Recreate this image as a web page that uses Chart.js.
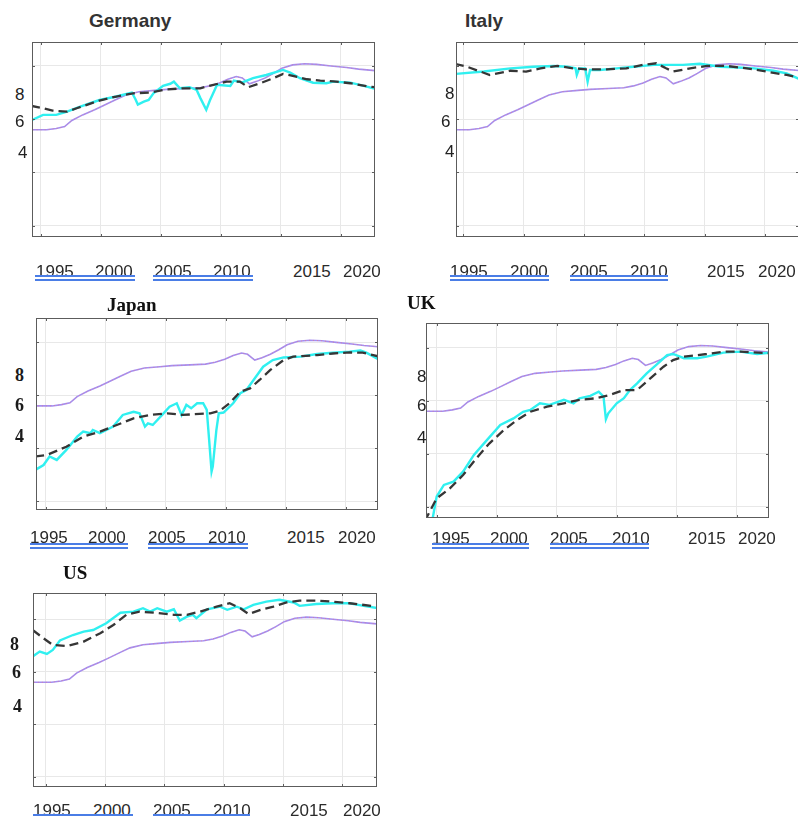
<!DOCTYPE html>
<html>
<head>
<meta charset="utf-8">
<script src="https://cdn.jsdelivr.net/npm/chart.js"></script>
<style>
  html, body { margin: 0; padding: 0; background: #fff; overflow: hidden; }
  #page { position: relative; width: 798px; height: 818px; overflow: hidden; }
  #page canvas { position: absolute; }
  .lbl { position: absolute; white-space: nowrap; line-height: 1; }
  .sans { font-family: "Liberation Sans", Arial, sans-serif; }
  .serif { font-family: "Liberation Serif", "Times New Roman", serif; }
  .uline { position: absolute; height: 6px; box-sizing: border-box;
           border-top: 2px solid #4a7de6; border-bottom: 2px solid #4a7de6; }
</style>
</head>
<body>
<div id="page"></div>
<script>
// tick values and labels
const yearTicks = [1995, 2000, 2005, 2010, 2015, 2020];
const gridValues = [2, 4, 6, 8];
const xTickLabels = ['1995', '2000', '2005', '2010', '2015', '2020'];
const yTickLabels = ['8', '6', '4'];
const countries = ['Germany', 'Italy', 'Japan', 'UK', 'US'];

// purple reference line, the same in every panel
const purpleSeries = [[1994.0, 5.6], [1995.5, 5.6], [1996.3, 5.65], [1997.0, 5.72], [1997.6, 5.95],
  [1998.5, 6.16], [1999.5, 6.35], [2000.2, 6.5], [2001.2, 6.72], [2002.1, 6.91], [2003.2, 7.03],
  [2004.5, 7.08], [2005.5, 7.12], [2007.0, 7.15], [2008.3, 7.18], [2009.1, 7.25], [2009.9, 7.36],
  [2010.6, 7.5], [2011.3, 7.6], [2011.8, 7.55], [2012.4, 7.33], [2013.0, 7.42], [2013.7, 7.55],
  [2014.4, 7.72], [2015.1, 7.91], [2016.0, 8.04], [2017.0, 8.08], [2018.0, 8.06], [2019.2, 8.0],
  [2020.5, 7.94], [2021.5, 7.88], [2023.0, 7.82]];

// Germany
const germanyCyan = [[1994.2, 5.95], [1995.2, 6.16], [1996.3, 6.16], [1997.2, 6.28], [1998.3, 6.47],
  [1999.9, 6.72], [2001.3, 6.85], [2002.6, 7.0], [2002.9, 6.75], [2003.1, 6.55], [2003.6, 6.66],
  [2004.0, 6.72], [2004.4, 6.97], [2005.2, 7.25], [2005.8, 7.33], [2006.1, 7.41], [2006.6, 7.16],
  [2007.4, 7.2], [2008.0, 7.1], [2008.3, 6.8], [2008.8, 6.35], [2009.1, 6.7], [2009.7, 7.29],
  [2010.8, 7.25], [2011.1, 7.45], [2011.8, 7.38], [2012.7, 7.54], [2013.8, 7.66], [2015.2, 7.85],
  [2015.8, 7.75], [2016.6, 7.54], [2017.7, 7.37], [2018.8, 7.35], [2019.4, 7.41], [2020.8, 7.37],
  [2021.6, 7.29], [2022.9, 7.14]];
const germanyDashed = [[1994.2, 6.5], [1995.2, 6.41], [1996.0, 6.32], [1997.2, 6.28], [1998.0, 6.41],
  [1999.9, 6.7], [2001.3, 6.85], [2002.7, 6.97], [2004.1, 7.0], [2005.5, 7.12], [2006.9, 7.16],
  [2008.3, 7.16], [2009.4, 7.29], [2010.5, 7.41], [2011.6, 7.41], [2012.3, 7.2], [2013.3, 7.35],
  [2014.4, 7.54], [2015.2, 7.7], [2016.1, 7.62], [2017.2, 7.5], [2018.3, 7.45], [2019.4, 7.42],
  [2020.8, 7.35], [2022.4, 7.22], [2022.9, 7.2]];

// Italy
const italyCyan = [[1994.3, 7.7], [1996.7, 7.79], [1998.9, 7.91], [2000.8, 7.97], [2002.5, 8.0],
  [2003.6, 7.97], [2004.3, 7.91], [2004.4, 7.66], [2004.6, 7.91], [2005.1, 7.91], [2005.3, 7.41],
  [2005.5, 7.85], [2006.3, 7.85], [2007.7, 7.91], [2009.1, 7.97], [2010.8, 8.04], [2011.9, 8.04],
  [2013.2, 8.04], [2014.6, 8.08], [2016.3, 7.97], [2017.4, 7.95], [2019.1, 7.91], [2020.7, 7.82],
  [2021.8, 7.72], [2022.9, 7.5]];
const italyDashed = [[1994.3, 8.08], [1995.3, 7.97], [1997.2, 7.66], [1998.9, 7.82], [2000.2, 7.79],
  [2001.4, 7.91], [2002.8, 8.0], [2004.1, 7.91], [2005.2, 7.87], [2006.9, 7.87], [2008.5, 7.91],
  [2009.9, 8.04], [2011.0, 8.1], [2011.8, 7.91], [2012.4, 7.79], [2013.8, 7.91], [2015.2, 8.0],
  [2016.8, 8.0], [2018.5, 7.91], [2020.1, 7.79], [2021.8, 7.66], [2022.9, 7.55]];

// Japan
const japanCyan = [[1994.1, 3.18], [1994.8, 3.37], [1995.3, 3.69], [1995.9, 3.56], [1996.7, 3.94],
  [1997.6, 4.44], [1998.1, 4.63], [1998.7, 4.57], [1998.9, 4.69], [1999.5, 4.57], [2000.6, 4.82],
  [2001.4, 5.26], [2002.3, 5.38], [2002.8, 5.32], [2003.25, 4.82], [2003.5, 4.94], [2003.9, 4.88],
  [2004.8, 5.32], [2005.3, 5.57], [2005.9, 5.7], [2006.3, 5.26], [2006.7, 5.64], [2007.1, 5.51],
  [2007.6, 5.7], [2008.1, 5.7], [2008.4, 5.45], [2008.6, 4.31], [2008.8, 3.12], [2008.9, 3.31],
  [2009.2, 4.69], [2009.4, 5.32], [2009.8, 5.35], [2010.6, 5.7], [2011.2, 6.08], [2011.7, 6.2],
  [2012.3, 6.58], [2013.1, 7.08], [2013.9, 7.33], [2014.8, 7.43], [2016.2, 7.46], [2017.6, 7.56],
  [2018.9, 7.61], [2020.3, 7.65], [2021.2, 7.69], [2021.7, 7.61], [2022.8, 7.33]];
const japanDashed = [[1994.1, 3.69], [1995.1, 3.75], [1996.7, 4.06], [1998.1, 4.44], [1999.5, 4.63],
  [2000.9, 4.88], [2002.3, 5.13], [2003.7, 5.26], [2005.1, 5.32], [2006.4, 5.26], [2007.8, 5.3],
  [2008.7, 5.32], [2009.5, 5.42], [2010.3, 5.7], [2011.2, 6.14], [2012.0, 6.26], [2012.8, 6.58],
  [2013.7, 6.96], [2014.8, 7.33], [2015.6, 7.46], [2017.6, 7.52], [2018.9, 7.58], [2020.3, 7.62],
  [2021.4, 7.61], [2022.8, 7.46]];

// UK
const ukCyan = [[1994.6, 1.4], [1995.0, 2.38], [1995.6, 2.82], [1996.4, 2.94], [1997.2, 3.32],
  [1998.1, 3.95], [1999.2, 4.52], [2000.3, 5.08], [2001.4, 5.33], [2002.2, 5.58], [2002.8, 5.65],
  [2003.6, 5.9], [2004.4, 5.84], [2005.6, 6.03], [2006.4, 5.9], [2006.9, 6.09], [2007.8, 6.18],
  [2008.5, 6.34], [2008.9, 6.15], [2009.1, 5.3], [2009.3, 5.52], [2010.0, 5.9], [2010.6, 6.09],
  [2011.1, 6.4], [2011.7, 6.65], [2012.5, 7.03], [2013.3, 7.35], [2014.2, 7.72], [2014.7, 7.76],
  [2015.6, 7.6], [2016.7, 7.6], [2017.5, 7.66], [2018.9, 7.81], [2020.3, 7.85], [2021.7, 7.76],
  [2022.8, 7.81]];
const ukDashed = [[1994.0, 1.45], [1995.0, 2.31], [1996.1, 2.69], [1997.2, 3.19], [1998.3, 3.82],
  [1999.4, 4.39], [2000.6, 4.89], [2001.7, 5.27], [2002.8, 5.58], [2004.2, 5.77], [2005.6, 5.9],
  [2006.9, 6.03], [2008.3, 6.09], [2009.4, 6.21], [2010.6, 6.4], [2011.7, 6.4], [2012.8, 6.84],
  [2013.9, 7.28], [2014.7, 7.53], [2015.6, 7.66], [2017.5, 7.76], [2018.9, 7.85], [2020.3, 7.85],
  [2022.8, 7.79]];

// US
const usCyan = [[1993.9, 6.58], [1994.5, 6.77], [1995.1, 6.68], [1995.6, 6.83], [1996.2, 7.19],
  [1997.3, 7.4], [1998.2, 7.53], [1999.0, 7.59], [2000.1, 7.85], [2001.3, 8.25], [2002.4, 8.29],
  [2003.2, 8.42], [2003.8, 8.29], [2004.4, 8.42], [2005.2, 8.29], [2005.8, 8.38], [2006.3, 7.95],
  [2006.9, 8.1], [2007.4, 8.17], [2007.7, 8.04], [2008.6, 8.38], [2009.7, 8.48], [2010.3, 8.36],
  [2011.1, 8.48], [2011.7, 8.38], [2012.5, 8.55], [2013.6, 8.67], [2014.7, 8.74], [2015.9, 8.64],
  [2016.4, 8.51], [2017.8, 8.58], [2019.2, 8.61], [2020.6, 8.61], [2021.8, 8.51], [2023.0, 8.42]];
const usDashed = [[1993.9, 7.59], [1994.8, 7.28], [1995.6, 7.02], [1996.8, 6.98], [1998.2, 7.15],
  [1999.6, 7.47], [2000.7, 7.78], [2001.8, 8.17], [2002.9, 8.29], [2004.1, 8.25], [2005.8, 8.17],
  [2006.9, 8.17], [2008.0, 8.29], [2009.4, 8.48], [2010.5, 8.61], [2011.4, 8.42], [2012.1, 8.2],
  [2013.1, 8.36], [2014.2, 8.48], [2015.3, 8.64], [2016.4, 8.71], [2017.8, 8.71], [2019.2, 8.67],
  [2020.6, 8.61], [2023.0, 8.48]];

const cyanByCountry = [germanyCyan, italyCyan, japanCyan, ukCyan, usCyan];
const dashedByCountry = [germanyDashed, italyDashed, japanDashed, ukDashed, usDashed];

// panel layout (page pixels) and axis ranges
const panels = [
  { box: [32, 42, 343, 195], x: [1994.28, 2022.86], y: [1.57, 8.90], serif: false,
    title: [89, 11], ylab: [[15, 94], [15, 121], [18, 152]], xlabY: 263,
    xlab: [36, 95, 154, 213, 293, 343], ul: [[35, 135], [153, 253]], ulY: 275 },
  { box: [456, 42, 343, 195], x: [1994.39, 2022.82], y: [1.57, 8.90], serif: false,
    title: [465, 11], ylab: [[445, 93], [441, 121], [445, 151]], xlabY: 263,
    xlab: [450, 510, 570, 630, 707, 758], ul: [[450, 549], [570, 668]], ulY: 275 },
  { box: [36, 318, 342, 192], x: [1994.17, 2022.67], y: [1.67, 8.92], serif: true,
    title: [107, 295], ylab: [[15, 375], [15, 405], [15, 436]], xlabY: 529,
    xlab: [30, 88, 148, 208, 287, 338], ul: [[30, 128], [148, 248]], ulY: 543 },
  { box: [426, 323, 343, 195], x: [1994.11, 2022.69], y: [1.57, 8.93], serif: true,
    title: [407, 293], ylab: [[417, 376], [417, 405], [417, 437]], xlabY: 530,
    xlab: [432, 490, 550, 612, 688, 738], ul: [[432, 529], [550, 649]], ulY: 543 },
  { box: [33, 593, 344, 194], x: [1993.93, 2022.92], y: [1.61, 9.0], serif: true,
    title: [63, 563], ylab: [[10, 644], [12, 672], [13, 706]], xlabY: 802,
    xlab: [33, 93, 153, 213, 290, 343], ul: [[33, 133], [153, 250]], ulY: 814 }
];

const page = document.getElementById('page');

function addText(txt, x, y, cls, size, weight, color) {
  const d = document.createElement('div');
  d.className = 'lbl ' + cls;
  d.textContent = txt;
  d.style.left = x + 'px';
  d.style.top = y + 'px';
  d.style.fontSize = size + 'px';
  d.style.fontWeight = weight;
  d.style.color = color;
  page.appendChild(d);
}

// box round the plot area with small inner ticks, like the original
const framePlugin = {
  id: 'frame',
  afterDraw(chart) {
    const { ctx, chartArea: a, scales } = chart;
    ctx.save();
    ctx.strokeStyle = '#5c5c5c';
    ctx.lineWidth = 1;
    ctx.strokeRect(a.left + 0.5, a.top + 0.5, a.right - a.left - 1, a.bottom - a.top - 1);
    ctx.beginPath();
    scales.x.ticks.forEach(function (t) {
      const px = Math.round(scales.x.getPixelForValue(t.value)) + 0.5;
      ctx.moveTo(px, a.top); ctx.lineTo(px, a.top + 3);
      ctx.moveTo(px, a.bottom); ctx.lineTo(px, a.bottom - 3);
    });
    scales.y.ticks.forEach(function (t) {
      const py = Math.round(scales.y.getPixelForValue(t.value)) + 0.5;
      ctx.moveTo(a.left, py); ctx.lineTo(a.left + 3, py);
      ctx.moveTo(a.right, py); ctx.lineTo(a.right - 3, py);
    });
    ctx.stroke();
    ctx.restore();
  }
};

function toXY(arr) {
  return arr.map(function (p) { return { x: p[0], y: p[1] }; });
}

panels.forEach(function (p, i) {
  const cv = document.createElement('canvas');
  cv.width = p.box[2];
  cv.height = p.box[3];
  cv.style.left = p.box[0] + 'px';
  cv.style.top = p.box[1] + 'px';
  cv.style.width = p.box[2] + 'px';
  cv.style.height = p.box[3] + 'px';
  page.appendChild(cv);

  new Chart(cv.getContext('2d'), {
    type: 'line',
    data: {
      datasets: [
        { data: toXY(dashedByCountry[i]), borderColor: '#363636', borderWidth: 2.3, borderDash: [9, 5] },
        { data: toXY(cyanByCountry[i]), borderColor: '#30f0f0', borderWidth: 2.4 },
        { data: toXY(purpleSeries), borderColor: 'rgba(255,110,110,0.5)', borderWidth: 1, borderDash: [1, 3] },
        { data: toXY(purpleSeries), borderColor: '#a48ff0', borderWidth: 1.6 }
      ]
    },
    options: {
      responsive: false,
      animation: false,
      events: [],
      layout: { padding: 0 },
      elements: { point: { radius: 0 }, line: { tension: 0 } },
      plugins: { legend: { display: false }, tooltip: { enabled: false } },
      scales: {
        x: {
          type: 'linear', min: p.x[0], max: p.x[1],
          afterBuildTicks: function (s) { s.ticks = yearTicks.map(function (v) { return { value: v }; }); },
          ticks: { display: false },
          grid: { color: '#e8e8e8', drawTicks: false },
          border: { display: false }
        },
        y: {
          type: 'linear', min: p.y[0], max: p.y[1],
          afterBuildTicks: function (s) { s.ticks = gridValues.map(function (v) { return { value: v }; }); },
          ticks: { display: false },
          grid: { color: '#e8e8e8', drawTicks: false },
          border: { display: false }
        }
      }
    },
    plugins: [framePlugin]
  });

  // title
  addText(countries[i], p.title[0], p.title[1], p.serif ? 'serif' : 'sans', 19, 'bold', p.serif ? '#111' : '#333');

  // y labels
  yTickLabels.forEach(function (t, k) {
    if (i === 2 || i === 4) {
      addText(t, p.ylab[k][0], p.ylab[k][1] - 9, 'serif', 18, 'bold', '#1a1a1a');
    } else {
      addText(t, p.ylab[k][0], p.ylab[k][1] - 8.5, 'sans', 17, 'normal', '#222');
    }
  });

  // x labels
  xTickLabels.forEach(function (t, k) {
    addText(t, p.xlab[k], p.xlabY, 'sans', 17, 'normal', '#2a2a2a');
  });

  // double blue underlines
  p.ul.forEach(function (u) {
    const d = document.createElement('div');
    d.className = 'uline';
    d.style.left = u[0] + 'px';
    d.style.width = (u[1] - u[0]) + 'px';
    d.style.top = p.ulY + 'px';
    page.appendChild(d);
  });
});
</script>
</body>
</html>
